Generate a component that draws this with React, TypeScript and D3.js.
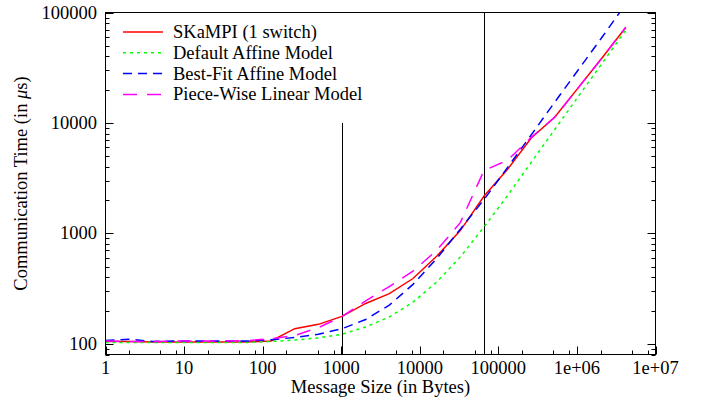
import * as d3 from 'd3'
import React from 'react'

// message sizes in bytes (powers of two)
const sizes = [
  1, 2, 4, 8, 16, 32, 64, 128, 256, 512, 1024, 2048, 4096, 8192, 16384, 32768, 65536, 131072, 262144,
  524288, 1048576, 2097152, 4194304,
]

// communication times in microseconds
const skampi = [
  105, 105, 104, 104, 104, 104, 104, 106, 137, 150, 177, 232, 285, 390, 620, 1060, 2170, 3800, 7300, 11300,
  21000, 39000, 73500,
]
const defaultAffine = [
  103, 103, 103, 103, 103, 103, 103, 105, 108, 113, 122, 142, 175, 238, 362, 611, 1142, 2200, 4400, 8770,
  17500, 34800, 69300,
]
const bestFitAffine = [
  107, 110, 105, 106, 106, 106, 106, 109, 114, 122, 137, 166, 224, 345, 590, 1090, 2020, 3950, 7800, 15500,
  30500, 60000, 120000,
]
const pieceWise = [
  106, 105, 105, 106, 106, 106, 107, 111, 119, 140, 177, 245, 330, 456, 700, 1250, 3700, 4600, 7400, 11300,
  21000, 39000, 73500,
]

const xTicks = [1, 10, 100, 1000, 10000, 100000, 1e6, 1e7]
const xTickLabels = ['1', '10', '100', '1000', '10000', '100000', '1e+06', '1e+07']
const xMinorSteps = [2, 5, 8]
const yTicks = [100, 1000, 10000, 100000]
const yTickLabels = ['100', '1000', '10000', '100000']

// vertical marker lines: [message size, upper end]
const markers = [
  [1024, 10000],
  [65536, 100000],
]

const series = [
  { name: 'SKaMPI (1 switch)', values: skampi, color: '#ff0000', dash: null },
  { name: 'Default Affine Model', values: defaultAffine, color: '#00ff00', dash: '3,4' },
  { name: 'Best-Fit Affine Model', values: bestFitAffine, color: '#0000ff', dash: '9,6' },
  { name: 'Piece-Wise Linear Model', values: pieceWise, color: '#ff00ff', dash: '14,10' },
]

const App = () => {
  const width = 702
  const height = 408
  const left = 105.5
  const right = 655.5
  const top = 12.5
  const bottom = 354.5
  const font = '"Liberation Serif", "Times New Roman", serif'
  const fs = 18.5

  const x = d3.scaleLog().domain([1, 1e7]).range([left, right])
  const y = d3.scaleLog().domain([80, 1e5]).range([bottom, top])

  const line = d3
    .line<number>()
    .x((d, i) => x(sizes[i]))
    .y((d) => y(d))

  const xMinor = []
  xTicks.slice(0, -1).forEach((t) => xMinorSteps.forEach((m) => xMinor.push(t * m)))
  const yMinor = []
  ;[10, 100, 1000, 10000].forEach((t) =>
    [2, 3, 4, 5, 6, 7, 8, 9].forEach((m) => {
      const v = t * m
      if (v >= 80 && v < 1e5 && v !== 100 && v !== 1000 && v !== 10000) yMinor.push(v)
    })
  )

  return (
    <svg
      width={width}
      height={height}
      style={{ position: 'absolute', left: 0, top: 0, background: '#fff' }}
      fontFamily={font}
    >
      <defs>
        <clipPath id="plot">
          <rect x={left} y={top} width={right - left} height={bottom - top} />
        </clipPath>
      </defs>

      {/* ticks */}
      <g stroke="#000" strokeWidth={1}>
        {xTicks.map((t) => (
          <line key={'xt' + t} x1={Math.round(x(t)) + 0.5} x2={Math.round(x(t)) + 0.5} y1={bottom} y2={bottom - 8} />
        ))}
        {xMinor.map((t) => (
          <line key={'xm' + t} x1={Math.round(x(t)) + 0.5} x2={Math.round(x(t)) + 0.5} y1={bottom} y2={bottom - 4} />
        ))}
        {yTicks.map((t) => (
          <g key={'yt' + t}>
            <line x1={left} x2={left + 8} y1={Math.round(y(t)) + 0.5} y2={Math.round(y(t)) + 0.5} />
            <line x1={right} x2={right - 8} y1={Math.round(y(t)) + 0.5} y2={Math.round(y(t)) + 0.5} />
          </g>
        ))}
        {yMinor.map((t) => (
          <g key={'ym' + t}>
            <line x1={left} x2={left + 4} y1={Math.round(y(t)) + 0.5} y2={Math.round(y(t)) + 0.5} />
            <line x1={right} x2={right - 4} y1={Math.round(y(t)) + 0.5} y2={Math.round(y(t)) + 0.5} />
          </g>
        ))}
      </g>

      {/* tick labels */}
      <g fontSize={fs} fill="#000">
        {xTicks.map((t, i) => (
          <text key={'xl' + t} x={x(t)} y={374} textAnchor="middle">
            {xTickLabels[i]}
          </text>
        ))}
        {yTicks.map((t, i) => (
          <text key={'yl' + t} x={97} y={y(t) + 6} textAnchor="end">
            {yTickLabels[i]}
          </text>
        ))}
      </g>

      {/* axis titles */}
      <text x={(left + right) / 2} y={393} textAnchor="middle" fontSize={fs}>
        Message Size (in Bytes)
      </text>
      <text transform={`translate(27 ${(top + bottom) / 2}) rotate(-90)`} textAnchor="middle" fontSize={fs}>
        Communication Time (in <tspan fontStyle="italic">μ</tspan>s)
      </text>

      {/* marker lines */}
      {markers.map(([m, upper]) => (
        <line
          key={'mk' + m}
          x1={Math.round(x(m)) + 0.5}
          x2={Math.round(x(m)) + 0.5}
          y1={y(upper)}
          y2={bottom}
          stroke="#000"
          strokeWidth={1}
        />
      ))}

      {/* series */}
      <g clipPath="url(#plot)" fill="none">
        {series.map((s) => (
          <path
            key={s.name}
            d={line(s.values)}
            stroke={s.color}
            strokeWidth={1.5}
            strokeDasharray={s.dash || undefined}
          />
        ))}
      </g>

      {/* legend */}
      <g fontSize={fs}>
        {series.map((s, i) => {
          const ly = 32 + i * 20.8
          return (
            <g key={'lg' + s.name}>
              <line
                x1={123}
                x2={163}
                y1={ly}
                y2={ly}
                stroke={s.color}
                strokeWidth={1.5}
                strokeDasharray={s.dash || undefined}
              />
              <text x={173} y={ly + 6}>
                {s.name}
              </text>
            </g>
          )
        })}
      </g>

      {/* frame */}
      <rect x={left} y={top} width={right - left} height={bottom - top} fill="none" stroke="#000" strokeWidth={1} />
    </svg>
  )
}

export default App
